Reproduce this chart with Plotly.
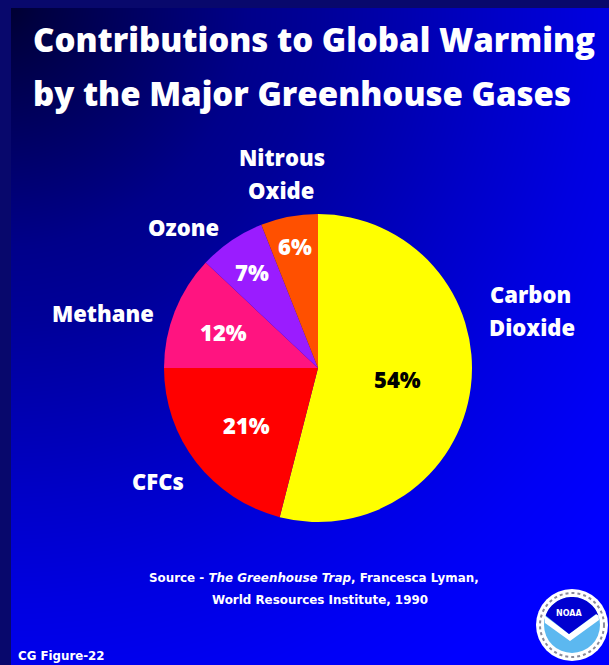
import numpy as np
import plotly.graph_objects as go

# ---- data -------------------------------------------------------------
gases = ["Carbon Dioxide", "CFCs", "Methane", "Ozone", "Nitrous Oxide"]
shares = [54, 21, 12, 7, 6]

slice_colors = ["#ffff00", "#ff0000", "#ff1480", "#9a1cff", "#ff5000"]
pct_colors = ["#000000", "#ffffff", "#ffffff", "#ffffff", "#ffffff"]
pct_radius = [0.52, 0.59, 0.66, 0.76, 0.81]   # fraction of pie radius for the % text

# outside name labels: list of (line text, x px, y px) per gas
name_lines = {
    "Carbon Dioxide": [("Carbon", 530, 294), ("Dioxide", 532, 327)],
    "CFCs": [("CFCs", 158, 481)],
    "Methane": [("Methane", 103, 313)],
    "Ozone": [("Ozone", 183, 227)],
    "Nitrous Oxide": [("Nitrous", 282, 157), ("Oxide", 281, 190)],
}

title_lines = ["Contributions to Global Warming", "by the Major Greenhouse Gases"]

W, H = 609, 665
CX, CY, R = 318, 368, 154
FONT = "Open Sans"
SMALL_FONT = "DejaVu Sans"

fig = go.Figure()

# ---- blue background that deepens toward the upper-left corner ----------
gx = np.linspace(-10, W + 10, 64)
gy = np.linspace(-10, H + 10, 70)
XX, YY = np.meshgrid(gx, gy)
dist = np.sqrt(XX ** 2 + YY ** 2)
fig.add_trace(go.Heatmap(
    x=gx, y=gy, z=dist, zmin=0, zmax=800, zsmooth="best",
    colorscale=[[0.0, "#00002c"], [0.05, "#000040"], [0.31, "#00008a"],
                [0.4, "#000098"], [0.625, "#0000c8"], [0.75, "#0000e0"],
                [0.9, "#0000f5"], [1.0, "#0000ff"]],
    showscale=False, hoverinfo="skip",
))

# ---- pie --------------------------------------------------------------
fig.add_trace(go.Pie(
    values=shares, labels=gases, sort=False, direction="clockwise", rotation=0,
    marker=dict(colors=slice_colors, line=dict(width=0)),
    textinfo="none", showlegend=False, hoverinfo="label+percent",
    domain=dict(x=[(CX - R) / W, (CX + R) / W], y=[1 - (CY + R) / H, 1 - (CY - R) / H]),
))

annotations = []

# percentage labels placed along each slice's middle angle
total = sum(shares)
cum = 0
for v, col, rf in zip(shares, pct_colors, pct_radius):
    a = np.radians((cum + v / 2) / total * 360)
    cum += v
    annotations.append(dict(
        x=CX + rf * R * np.sin(a), y=CY - rf * R * np.cos(a) + 1, xref="x", yref="y",
        text=f"{v}%", showarrow=False, xanchor="center", yanchor="middle",
        font=dict(family=FONT, size=22, color=col, weight=800),
    ))

for g in gases:
    for txt, x, y in name_lines[g]:
        annotations.append(dict(
            x=x, y=y, xref="x", yref="y", text=txt, showarrow=False,
            xanchor="center", yanchor="middle",
            font=dict(family=FONT, size=22, color="white", weight=800),
        ))

# title
for txt, y in zip(title_lines, [39, 93]):
    annotations.append(dict(
        x=31, y=y, xref="x", yref="y", text=txt, showarrow=False,
        xanchor="left", yanchor="middle",
        font=dict(family=FONT, size=33, color="white", weight=800),
    ))

# source note
annotations.append(dict(
    x=314, y=578, xref="x", yref="y", showarrow=False, xanchor="center", yanchor="middle",
    text="Source - <i>The Greenhouse Trap</i>, Francesca Lyman,",
    font=dict(family=SMALL_FONT, size=11.9, color="white", weight=700),
))
annotations.append(dict(
    x=320, y=600, xref="x", yref="y", showarrow=False, xanchor="center", yanchor="middle",
    text="World Resources Institute, 1990",
    font=dict(family=SMALL_FONT, size=11.9, color="white", weight=700),
))
annotations.append(dict(
    x=16, y=656, xref="x", yref="y", showarrow=False, xanchor="left", yanchor="middle",
    text="CG Figure-22",
    font=dict(family=SMALL_FONT, size=11.8, color="white", weight=700),
))

# ---- frame strips and emblem ------------------------------------------
shapes = [
    dict(type="rect", x0=0, x1=11, y0=0, y1=H, xref="x", yref="y",
         fillcolor="#08086c", line=dict(width=0), layer="above"),
    dict(type="rect", x0=0, x1=W, y0=0, y1=8, xref="x", yref="y",
         fillcolor="#08086c", line=dict(width=0), layer="above"),
]


def poly(points):
    return "M " + " L ".join(f"{px:.1f},{py:.1f}" for px, py in points) + " Z"


LX, LY = 572, 625
RI = 28
# upper (dark) cap of the emblem: arc over the top, closed by the gull's V
th = np.radians(np.linspace(200, 340, 30))
cap = [(LX + RI * np.cos(t), LY + RI * np.sin(t)) for t in th]
cap += [(LX + 24, LY - 11), (LX - 3, LY + 9)]
gull = [(LX - 27, LY - 9), (LX - 3, LY + 9), (LX + 26, LY - 12),
        (LX + 27, LY - 5), (LX - 2, LY + 16), (LX - 27, LY - 2)]

shapes += [
    dict(type="circle", x0=LX - 36, x1=LX + 36, y0=LY - 36, y1=LY + 36, xref="x", yref="y",
         fillcolor="white", line=dict(width=0), layer="above"),
    dict(type="circle", x0=LX - 32, x1=LX + 32, y0=LY - 32, y1=LY + 32, xref="x", yref="y",
         fillcolor="rgba(0,0,0,0)", line=dict(width=2, color="#8a8a9a", dash="dot"), layer="above"),
    dict(type="circle", x0=LX - RI, x1=LX + RI, y0=LY - RI, y1=LY + RI, xref="x", yref="y",
         fillcolor="#5cb8f0", line=dict(width=0), layer="above"),
    dict(type="path", xref="x", yref="y", layer="above", path=poly(gull),
         fillcolor="white", line=dict(width=0)),
    dict(type="path", xref="x", yref="y", layer="above", path=poly(cap),
         fillcolor="#0000d0", line=dict(width=0)),
]
annotations.append(dict(
    x=LX - 3, y=LY - 12, xref="x", yref="y", text="NOAA", showarrow=False,
    xanchor="center", yanchor="middle",
    font=dict(family="DejaVu Sans", size=8, color="white", weight=700),
))

fig.update_layout(
    width=W, height=H, autosize=False,
    margin=dict(l=0, r=0, t=0, b=0),
    paper_bgcolor="#0000c8", plot_bgcolor="#0000c8",
    xaxis=dict(range=[0, W], visible=False, domain=[0, 1], fixedrange=True),
    yaxis=dict(range=[H, 0], visible=False, domain=[0, 1], fixedrange=True),
    annotations=annotations, shapes=shapes,
)

fig.write_html("out.html")
